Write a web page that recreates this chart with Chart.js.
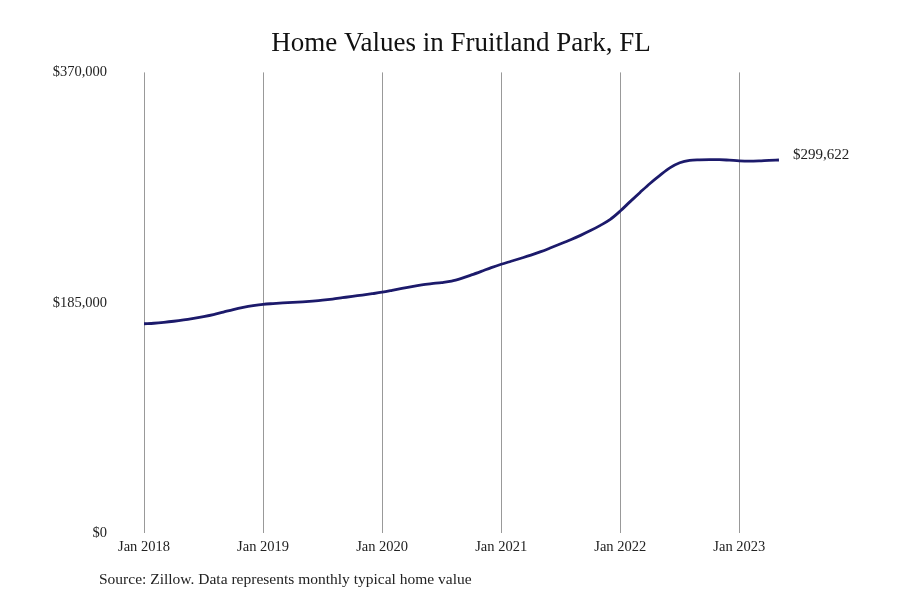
<!DOCTYPE html>
<html>
<head>
<meta charset="utf-8">
<script src="https://cdn.jsdelivr.net/npm/chart.js@4.4.1/dist/chart.umd.min.js"></script>
<style>
  body { margin: 0; background: #fff; }
  #wrap { width: 900px; height: 600px; }
</style>
</head>
<body>
<div id="wrap"><canvas id="homeChart" width="900" height="600"></canvas></div>
<script>
// monthly typical home value, Jan 2018 .. May 2023
const homeValues = [
  168100, 168500, 169200, 170100, 171200, 172500, 173900, 175500, 177500, 179500, 181200, 182600,
  183700, 184300, 184800, 185200, 185700, 186300, 187000, 187900, 189000, 190100, 191100, 192200,
  193400, 194900, 196500, 198000, 199300, 200300, 201200, 202400, 204600, 207300, 210200, 213200,
  215900, 218300, 220700, 223200, 226000, 229100, 232300, 235600, 239100, 242900, 247100, 251900,
  258600, 266200, 273600, 280800, 287300, 293300, 297400, 299400, 299800, 299900, 299900, 299500,
  299000, 298800, 299000, 299400, 299622
];
const tickMonths = [0, 12, 24, 36, 48, 60];
const tickLabels = ['Jan 2018', 'Jan 2019', 'Jan 2020', 'Jan 2021', 'Jan 2022', 'Jan 2023'];
const yTicks = [0, 185000, 370000];

const serif = '"Liberation Serif", "DejaVu Serif", serif';
const money = v => '$' + Math.round(v).toLocaleString('en-US');

// end value label + source line
const extraText = {
  id: 'extraText',
  afterDraw(chart) {
    const ctx = chart.ctx;
    const meta = chart.getDatasetMeta(0);
    const last = meta.data[meta.data.length - 1];
    ctx.save();
    ctx.fillStyle = '#222';
    ctx.font = '15px ' + serif;
    ctx.textBaseline = 'middle';
    ctx.textAlign = 'left';
    ctx.fillText(money(homeValues[homeValues.length - 1]), last.x + 14, last.y - 5);

    ctx.font = '15.5px ' + serif;
    ctx.fillText('Source: Zillow. Data represents monthly typical home value', 99, 580);
    ctx.restore();
  }
};

const ctx = document.getElementById('homeChart').getContext('2d');
new Chart(ctx, {
  type: 'line',
  data: {
    datasets: [{
      data: homeValues.map((v, i) => ({ x: i, y: v })),
      borderColor: '#1c1a6b',
      borderWidth: 2.8,
      pointRadius: 0,
      tension: 0.4,
      cubicInterpolationMode: 'monotone',
      fill: false
    }]
  },
  options: {
    responsive: false,
    animation: false,
    devicePixelRatio: 1,
    layout: { padding: { left: 22, right: 0, top: 0, bottom: 0 } },
    plugins: {
      legend: { display: false },
      tooltip: { enabled: false },
      title: {
        display: true,
        text: 'Home Values in Fruitland Park, FL',
        color: '#111',
        font: { family: serif, size: 27, weight: 'normal' },
        padding: { top: 28, bottom: 12 }
      }
    },
    scales: {
      x: {
        type: 'linear',
        min: 0,
        max: 76.2,
        afterBuildTicks: scale => { scale.ticks = tickMonths.map(v => ({ value: v })); },
        afterFit: scale => { scale.height = 67; },
        ticks: {
          callback: v => tickLabels[tickMonths.indexOf(v)],
          color: '#222',
          font: { family: serif, size: 14.5 },
          padding: 5,
          maxRotation: 0
        },
        grid: { color: '#999', lineWidth: 1, drawTicks: false },
        border: { display: false }
      },
      y: {
        min: 0,
        max: 370000,
        afterBuildTicks: scale => { scale.ticks = yTicks.map(v => ({ value: v })); },
        afterFit: scale => { scale.width = 122; },
        ticks: {
          callback: v => money(v),
          color: '#222',
          font: { family: serif, size: 14.5 },
          padding: 29
        },
        grid: { display: false },
        border: { display: false }
      }
    }
  },
  plugins: [extraText]
});
</script>
</body>
</html>
